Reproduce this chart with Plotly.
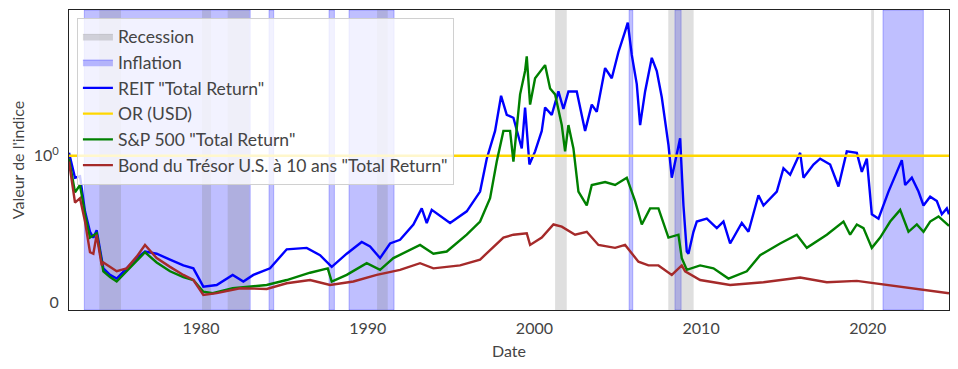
import plotly.graph_objects as go

# ---- data (values relative to gold) ----
reit_x = [1972.08, 1972.3, 1972.44, 1972.74, 1973.04, 1973.34, 1973.54, 1973.74, 1974.04, 1974.14, 1974.54, 1974.94,
          1975.54, 1976.14, 1976.64, 1977.34, 1978.14, 1978.94, 1979.54, 1980.14, 1980.94, 1981.9, 1982.54, 1983.14,
          1984.14, 1985.14, 1986.34, 1987.14, 1987.84, 1988.74, 1989.64, 1990.14, 1990.74, 1991.34, 1991.94, 1992.74,
          1993.24, 1993.54, 1993.84, 1994.94, 1995.94, 1996.74, 1997.14, 1997.64, 1998.0, 1998.34, 1998.74, 1999.24,
          1999.44, 1999.7, 2000.04, 2000.44, 2000.64, 2001.04, 2001.44, 2001.74, 2002.04, 2002.54, 2003.04, 2003.44,
          2003.74, 2004.24, 2004.64, 2005.04, 2005.44, 2005.6, 2005.84, 2006.14, 2006.34, 2006.64, 2007.04, 2007.34,
          2007.64, 2008.04, 2008.24, 2008.54, 2008.74, 2008.94, 2009.14, 2009.24, 2009.54, 2009.74, 2010.34, 2010.94,
          2011.34, 2011.74, 2012.44, 2012.84, 2013.44, 2013.74, 2014.54, 2014.94, 2015.34, 2015.94, 2016.14, 2016.74,
          2017.14, 2017.74, 2018.24, 2018.74, 2019.34, 2019.64, 2019.94, 2020.24, 2020.64, 2021.24, 2021.74, 2022.04,
          2022.24, 2022.64, 2023.04, 2023.34, 2023.74, 2024.14, 2024.44, 2024.74, 2024.87]
reit_y = [1.02, 0.92, 0.85, 0.86, 0.62, 0.48, 0.44, 0.49, 0.30, 0.23, 0.185, 0.16,
          0.23, 0.30, 0.345, 0.33, 0.29, 0.25, 0.23, 0.105, 0.116, 0.185, 0.14, 0.185,
          0.23, 0.36, 0.37, 0.32, 0.24, 0.33, 0.41, 0.38, 0.30, 0.40, 0.425, 0.53,
          0.64, 0.54, 0.63, 0.54, 0.62, 0.755, 0.98, 1.17, 1.41, 1.28, 1.26, 1.05,
          1.33, 0.94, 1.03, 1.17, 1.33, 1.28, 1.44, 1.32, 1.44, 1.44, 1.17, 1.35,
          1.30, 1.60, 1.53, 1.71, 1.85, 1.91, 1.69, 1.49, 1.21, 1.44, 1.67, 1.58,
          1.40, 1.075, 0.85, 1.01, 1.12, 0.66, 0.345, 0.33, 0.48, 0.55, 0.57, 0.505,
          0.55, 0.40, 0.54, 0.48, 0.73, 0.66, 0.755, 0.915, 0.87, 1.02, 0.85, 0.94,
          0.98, 0.94, 0.79, 1.03, 1.02, 0.89, 0.98, 0.60, 0.57, 0.755, 0.89, 0.97,
          0.80, 0.85, 0.755, 0.66, 0.72, 0.69, 0.60, 0.64, 0.60]

spx_x = [1972.08, 1972.44, 1972.74, 1973.04, 1973.34, 1973.74, 1974.14, 1974.54, 1974.94, 1975.54, 1976.14, 1976.64,
         1977.34, 1978.14, 1978.94, 1979.54, 1980.14, 1980.7, 1981.9, 1983.94, 1985.14, 1986.54, 1987.6, 1987.84,
         1988.74, 1989.94, 1990.74, 1991.54, 1993.14, 1993.94, 1994.74, 1995.94, 1996.74, 1997.34, 1997.74, 1998.14,
         1998.54, 1998.74, 1999.14, 1999.44, 1999.54, 1999.74, 2000.04, 2000.64, 2000.94, 2001.24, 2001.64, 2001.84,
         2002.04, 2002.34, 2002.64, 2003.14, 2003.44, 2004.24, 2004.84, 2005.54, 2006.04, 2006.44, 2006.94, 2007.44,
         2008.04, 2008.64, 2008.84, 2009.04, 2009.14, 2009.94, 2010.74, 2011.64, 2012.74, 2013.54, 2014.74, 2015.74,
         2016.34, 2017.54, 2018.54, 2018.94, 2019.34, 2019.74, 2020.24, 2020.74, 2021.34, 2021.94, 2022.44, 2022.94,
         2023.34, 2023.74, 2024.24, 2024.87]
spx_y = [0.98, 0.75, 0.80, 0.60, 0.44, 0.47, 0.21, 0.17, 0.14, 0.21, 0.28, 0.34,
         0.27, 0.21, 0.17, 0.15, 0.07, 0.06, 0.094, 0.116, 0.15, 0.20, 0.23, 0.14,
         0.185, 0.265, 0.22, 0.30, 0.39, 0.33, 0.345, 0.46, 0.55, 0.71, 0.96, 1.17,
         1.17, 0.96, 1.42, 1.58, 1.68, 1.35, 1.53, 1.62, 1.46, 1.42, 1.21, 1.03,
         1.21, 1.05, 0.755, 0.66, 0.80, 0.82, 0.80, 0.85, 0.69, 0.53, 0.64, 0.64,
         0.44, 0.46, 0.30, 0.25, 0.22, 0.25, 0.23, 0.16, 0.21, 0.32, 0.40, 0.46,
         0.37, 0.46, 0.55, 0.46, 0.53, 0.505, 0.37, 0.44, 0.55, 0.63, 0.48, 0.53,
         0.48, 0.55, 0.585, 0.52]

bond_x = [1972.08, 1972.44, 1972.74, 1973.04, 1973.34, 1973.54, 1973.74, 1974.04, 1974.14, 1974.54, 1974.94, 1975.54,
          1976.14, 1976.64, 1977.34, 1978.14, 1978.94, 1979.54, 1980.14, 1980.94, 1982.34, 1983.94, 1985.14, 1986.54,
          1987.74, 1989.14, 1990.54, 1991.94, 1993.14, 1993.94, 1995.54, 1996.74, 1998.14, 1998.74, 1999.54, 1999.74,
          2000.44, 2001.14, 2001.64, 2002.44, 2003.14, 2003.84, 2004.84, 2005.44, 2006.24, 2006.84, 2007.44, 2008.24,
          2008.84, 2009.04, 2009.94, 2011.74, 2013.74, 2015.94, 2017.54, 2019.34, 2020.34, 2021.94, 2023.34, 2024.87]
bond_y = [0.96, 0.68, 0.71, 0.55, 0.34, 0.33, 0.46, 0.25, 0.27, 0.24, 0.21, 0.23,
          0.31, 0.39, 0.30, 0.24, 0.185, 0.15, 0.048, 0.06, 0.094, 0.089, 0.128, 0.15,
          0.116, 0.14, 0.185, 0.22, 0.265, 0.23, 0.25, 0.29, 0.44, 0.46, 0.47, 0.39,
          0.44, 0.53, 0.515, 0.46, 0.48, 0.39, 0.37, 0.39, 0.275, 0.25, 0.25, 0.185,
          0.25, 0.21, 0.15, 0.116, 0.135, 0.167, 0.135, 0.144, 0.128, 0.105, 0.082, 0.06]

gold_x = [1972.08, 2024.87]
gold_y = [1.0, 1.0]

recession_start = [1973.9, 1980.06, 1981.6, 1990.56, 2001.24, 2008.03, 2020.2]
recession_end = [1975.2, 1980.6, 1982.9, 1991.2, 2001.94, 2009.55, 2020.37]
inflation_start = [1973.0, 1984.08, 1987.68, 1988.88, 2005.68, 2008.43, 2020.91]
inflation_end = [1982.95, 1984.36, 1988.0, 1991.58, 2005.9, 2008.8, 2023.33]

x_ticks = [1980, 1990, 2000, 2010, 2020]
y_ticks = [0, 1]
y_ticklabels = ["0", "10<sup>0</sup>"]

FONT = "Lato, Noto Sans, sans-serif"

fig = go.Figure()

shapes = []
for s, e in zip(inflation_start, inflation_end):
    shapes.append(dict(type="rect", xref="x", yref="paper", x0=s, x1=e, y0=0, y1=1,
                       fillcolor="rgba(0,0,255,0.25)", line=dict(color="rgba(0,0,255,0.25)", width=1),
                       layer="below"))
for s, e in zip(recession_start, recession_end):
    shapes.append(dict(type="rect", xref="x", yref="paper", x0=s, x1=e, y0=0, y1=1,
                       fillcolor="rgba(128,128,128,0.25)", line=dict(width=0),
                       layer="below"))

# legend-only patches
fig.add_trace(go.Scatter(x=[None], y=[None], mode="lines", fill="toself", name="Recession",
                         fillcolor="rgba(128,128,128,0.3)", line=dict(color="rgba(128,128,128,0.3)", width=1)))
fig.add_trace(go.Scatter(x=[None], y=[None], mode="lines", fill="toself", name="Inflation",
                         fillcolor="rgba(0,0,255,0.25)", line=dict(color="rgba(0,0,255,0.35)", width=1)))

fig.add_trace(go.Scatter(x=reit_x, y=reit_y, mode="lines", name='REIT "Total Return"',
                         line=dict(color="blue", width=2.4)))
fig.add_trace(go.Scatter(x=gold_x, y=gold_y, mode="lines", name="OR (USD)",
                         line=dict(color="gold", width=2.4)))
fig.add_trace(go.Scatter(x=spx_x, y=spx_y, mode="lines", name='S&P 500 "Total Return"',
                         line=dict(color="green", width=2.4)))
fig.add_trace(go.Scatter(x=bond_x, y=bond_y, mode="lines", name='Bond du Trésor U.S. à 10 ans "Total Return"',
                         line=dict(color="brown", width=2.4)))

# the page body has an 8px margin, so the figure is 8px smaller and offset
fig.update_layout(
    width=950, height=361,
    margin=dict(l=61, r=9, t=2, b=59, autoexpand=False),
    paper_bgcolor="white", plot_bgcolor="white",
    font=dict(family=FONT, size=16, color="#444"),
    shapes=shapes,
    showlegend=True,
    legend=dict(x=0.009, y=0.975, xanchor="left", yanchor="top",
                bgcolor="rgba(255,255,255,0.8)", bordercolor="#d0d0d0", borderwidth=1,
                font=dict(family=FONT, size=17.5, color="#444"), tracegroupgap=0, itemwidth=30),
    xaxis=dict(range=[1972.08, 2024.87], tickvals=x_ticks, ticktext=[str(t) for t in x_ticks],
               automargin=False,
               ticks="outside", ticklen=4, tickcolor="rgba(0,0,0,0)",
               showgrid=False, zeroline=False, showline=True, linecolor="#222", linewidth=1.2, mirror=True,
               title=dict(text="Date", font=dict(size=16, color="#444"), standoff=9),
               tickfont=dict(size=16, color="#444")),
    yaxis=dict(range=[-0.055, 1.997], tickvals=y_ticks, ticktext=y_ticklabels,
               automargin=False,
               ticks="outside", ticklen=6, tickcolor="rgba(0,0,0,0)",
               showgrid=False, zeroline=False, showline=True, linecolor="#222", linewidth=1.2, mirror=True,
               title=dict(text="Valeur de l'indice", font=dict(size=16, color="#444"), standoff=8),
               tickfont=dict(size=16, color="#444")),
)

fig.write_html("out.html")
